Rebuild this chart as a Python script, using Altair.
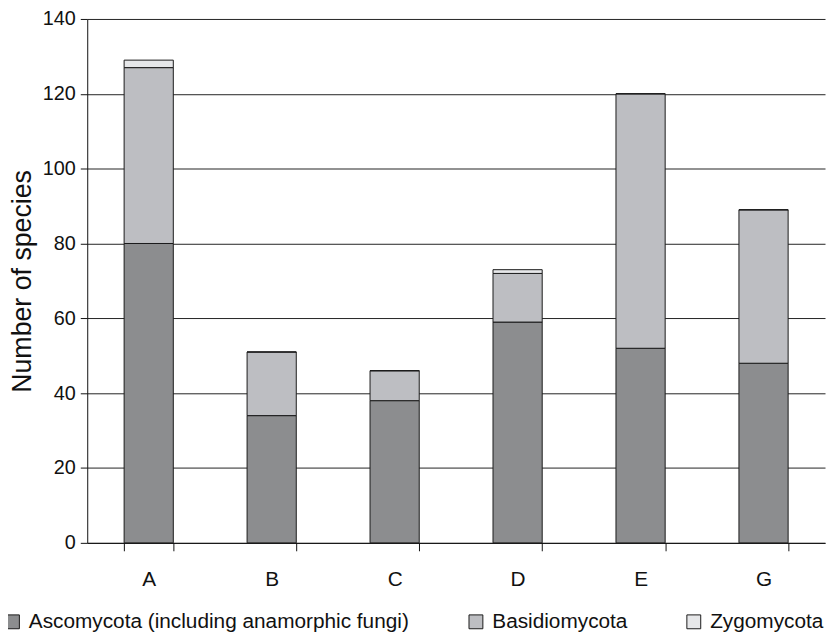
import altair as alt
import pandas as pd

sites = ["A", "B", "C", "D", "E", "G"]
asco = [80, 34, 38, 59, 52, 48]
basidio = [47, 17, 8, 13, 68, 41]
zygo = [2, 0, 0, 1, 0, 0]
groups = ["Ascomycota (including anamorphic fungi)", "Basidiomycota", "Zygomycota"]
colors = ["#8c8d8f", "#bdbec2", "#e6e7e9"]

rows = []
for i, s in enumerate(sites):
    for g, vals, o in zip(groups, [asco, basidio, zygo], [0, 1, 2]):
        rows.append({"site": s, "group": g, "count": vals[i], "ord": o})
df = pd.DataFrame(rows)

font = "Liberation Sans"

chart = alt.Chart(df).mark_bar(stroke="#1a1a1a", strokeWidth=1).encode(
    x=alt.X("site:N", sort=sites, title=None,
            scale=alt.Scale(paddingInner=0.6, paddingOuter=0.3),
            axis=alt.Axis(labelAngle=0, tickBand="extent", tickSize=8,
                          labelPadding=18, labelFontSize=21, labelFont=font,
                          labelColor="#111", domainColor="#111", tickColor="#111")),
    y=alt.Y("count:Q", stack="zero", title="Number of species",
            scale=alt.Scale(domain=[0, 140]),
            axis=alt.Axis(values=list(range(0, 141, 20)), tickSize=7,
                          labelPadding=5,
                          labelFontSize=20, labelFont=font, labelColor="#111",
                          titleFontSize=27, titleFont=font, titleFontWeight="normal",
                          titleColor="#111", titlePadding=6,
                          gridColor="#222", gridWidth=1, domainColor="#111",
                          tickColor="#111")),
    color=alt.Color("group:N", sort=groups,
                    scale=alt.Scale(domain=groups, range=colors),
                    legend=alt.Legend(title=None, orient="none", direction="horizontal",
                                      legendX=-86, legendY=598,
                                      symbolType="square", symbolSize=196,
                                      symbolStrokeColor="#1a1a1a", symbolStrokeWidth=1,
                                      labelFontSize=21, labelFont=font, labelColor="#111",
                                      labelLimit=0,
                                      columnPadding=56, labelOffset=6)),
    order=alt.Order("ord:Q"),
).properties(
    width=745, height=529,
    autosize=alt.AutoSizeParams(type="none"),
    padding={"left": 80, "top": 8, "right": 2, "bottom": 93},
).configure_view(stroke=None).configure_axis(grid=True).configure_axisX(grid=False)

chart.save("out.html", embed_options={"renderer": "svg", "actions": False})
